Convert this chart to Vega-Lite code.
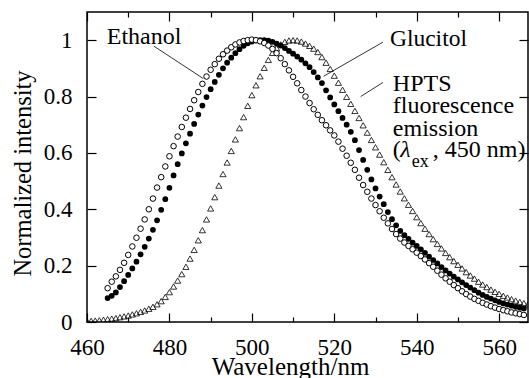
{
  "$schema": "https://vega.github.io/schema/vega-lite/v6.json",
  "autosize": {"type": "none"},
  "padding": {"left": 87, "top": 12, "right": 1, "bottom": 56},
  "width": 441,
  "height": 310,
  "background": "white",
  "config": {
    "view": {"stroke": "black", "strokeWidth": 1.5},
    "font": "Liberation Serif"
  },
  "datasets": {
    "tri": [
      {"nm":460,"I":0.003},{"nm":461,"I":0.004},{"nm":462,"I":0.005},{"nm":463,"I":0.006},{"nm":464,"I":0.008},
      {"nm":465,"I":0.010},{"nm":466,"I":0.012},{"nm":467,"I":0.014},{"nm":468,"I":0.017},{"nm":469,"I":0.020},
      {"nm":470,"I":0.023},{"nm":471,"I":0.027},{"nm":472,"I":0.031},{"nm":473,"I":0.036},{"nm":474,"I":0.041},
      {"nm":475,"I":0.047},{"nm":476,"I":0.054},{"nm":477,"I":0.063},{"nm":478,"I":0.074},{"nm":479,"I":0.089},
      {"nm":480,"I":0.106},{"nm":481,"I":0.126},{"nm":482,"I":0.147},{"nm":483,"I":0.170},{"nm":484,"I":0.196},
      {"nm":485,"I":0.225},{"nm":486,"I":0.256},{"nm":487,"I":0.290},{"nm":488,"I":0.326},{"nm":489,"I":0.364},
      {"nm":490,"I":0.403},{"nm":491,"I":0.443},{"nm":492,"I":0.484},{"nm":493,"I":0.525},{"nm":494,"I":0.566},
      {"nm":495,"I":0.607},{"nm":496,"I":0.648},{"nm":497,"I":0.688},{"nm":498,"I":0.727},{"nm":499,"I":0.767},
      {"nm":500,"I":0.805},{"nm":501,"I":0.840},{"nm":502,"I":0.872},{"nm":503,"I":0.902},{"nm":504,"I":0.930},
      {"nm":505,"I":0.955},{"nm":506,"I":0.972},{"nm":507,"I":0.985},{"nm":508,"I":0.994},{"nm":509,"I":0.999},
      {"nm":510,"I":1.000},{"nm":511,"I":0.999},{"nm":512,"I":0.995},{"nm":513,"I":0.988},{"nm":514,"I":0.980},
      {"nm":515,"I":0.970},{"nm":516,"I":0.958},{"nm":517,"I":0.940},{"nm":518,"I":0.920},{"nm":519,"I":0.898},
      {"nm":520,"I":0.874},{"nm":521,"I":0.849},{"nm":522,"I":0.824},{"nm":523,"I":0.799},{"nm":524,"I":0.774},
      {"nm":525,"I":0.749},{"nm":526,"I":0.724},{"nm":527,"I":0.698},{"nm":528,"I":0.672},{"nm":529,"I":0.646},
      {"nm":530,"I":0.620},{"nm":531,"I":0.594},{"nm":532,"I":0.567},{"nm":533,"I":0.540},{"nm":534,"I":0.514},
      {"nm":535,"I":0.488},{"nm":536,"I":0.463},{"nm":537,"I":0.439},{"nm":538,"I":0.416},{"nm":539,"I":0.394},
      {"nm":540,"I":0.372},{"nm":541,"I":0.351},{"nm":542,"I":0.331},{"nm":543,"I":0.312},{"nm":544,"I":0.294},
      {"nm":545,"I":0.277},{"nm":546,"I":0.261},{"nm":547,"I":0.245},{"nm":548,"I":0.230},{"nm":549,"I":0.216},
      {"nm":550,"I":0.203},{"nm":551,"I":0.190},{"nm":552,"I":0.177},{"nm":553,"I":0.165},{"nm":554,"I":0.154},
      {"nm":555,"I":0.143},{"nm":556,"I":0.133},{"nm":557,"I":0.124},{"nm":558,"I":0.115},{"nm":559,"I":0.107},
      {"nm":560,"I":0.100},{"nm":561,"I":0.093},{"nm":562,"I":0.087},{"nm":563,"I":0.081},{"nm":564,"I":0.076},
      {"nm":565,"I":0.071},{"nm":566,"I":0.067},{"nm":567,"I":0.063}
    ],
    "glucitol": [
      {"nm":465,"I":0.085},{"nm":466,"I":0.093},{"nm":467,"I":0.105},{"nm":468,"I":0.124},{"nm":469,"I":0.145},
      {"nm":470,"I":0.167},{"nm":471,"I":0.190},{"nm":472,"I":0.214},{"nm":473,"I":0.240},{"nm":474,"I":0.267},
      {"nm":475,"I":0.296},{"nm":476,"I":0.327},{"nm":477,"I":0.361},{"nm":478,"I":0.398},{"nm":479,"I":0.436},
      {"nm":480,"I":0.476},{"nm":481,"I":0.520},{"nm":482,"I":0.560},{"nm":483,"I":0.598},{"nm":484,"I":0.634},
      {"nm":485,"I":0.668},{"nm":486,"I":0.703},{"nm":487,"I":0.736},{"nm":488,"I":0.768},{"nm":489,"I":0.798},
      {"nm":490,"I":0.826},{"nm":491,"I":0.852},{"nm":492,"I":0.877},{"nm":493,"I":0.900},{"nm":494,"I":0.920},
      {"nm":495,"I":0.938},{"nm":496,"I":0.954},{"nm":497,"I":0.968},{"nm":498,"I":0.980},{"nm":499,"I":0.989},
      {"nm":500,"I":0.995},{"nm":501,"I":0.999},{"nm":502,"I":1.000},{"nm":503,"I":1.000},{"nm":504,"I":0.998},
      {"nm":505,"I":0.994},{"nm":506,"I":0.988},{"nm":507,"I":0.981},{"nm":508,"I":0.972},{"nm":509,"I":0.962},
      {"nm":510,"I":0.952},{"nm":511,"I":0.942},{"nm":512,"I":0.931},{"nm":513,"I":0.918},{"nm":514,"I":0.904},
      {"nm":515,"I":0.887},{"nm":516,"I":0.868},{"nm":517,"I":0.848},{"nm":518,"I":0.822},{"nm":519,"I":0.797},
      {"nm":520,"I":0.772},{"nm":521,"I":0.748},{"nm":522,"I":0.724},{"nm":523,"I":0.700},{"nm":524,"I":0.675},
      {"nm":525,"I":0.645},{"nm":526,"I":0.610},{"nm":527,"I":0.575},{"nm":528,"I":0.540},{"nm":529,"I":0.506},
      {"nm":530,"I":0.474},{"nm":531,"I":0.445},{"nm":532,"I":0.418},{"nm":533,"I":0.390},{"nm":534,"I":0.365},
      {"nm":535,"I":0.343},{"nm":536,"I":0.323},{"nm":537,"I":0.308},{"nm":538,"I":0.295},{"nm":539,"I":0.282},
      {"nm":540,"I":0.270},{"nm":541,"I":0.258},{"nm":542,"I":0.245},{"nm":543,"I":0.232},{"nm":544,"I":0.220},
      {"nm":545,"I":0.208},{"nm":546,"I":0.195},{"nm":547,"I":0.183},{"nm":548,"I":0.172},{"nm":549,"I":0.161},
      {"nm":550,"I":0.151},{"nm":551,"I":0.141},{"nm":552,"I":0.131},{"nm":553,"I":0.122},{"nm":554,"I":0.113},
      {"nm":555,"I":0.104},{"nm":556,"I":0.096},{"nm":557,"I":0.089},{"nm":558,"I":0.083},{"nm":559,"I":0.077},
      {"nm":560,"I":0.071},{"nm":561,"I":0.066},{"nm":562,"I":0.062},{"nm":563,"I":0.058},{"nm":564,"I":0.054},
      {"nm":565,"I":0.051},{"nm":566,"I":0.048}
    ],
    "ethanol": [
      {"nm":465,"I":0.120},{"nm":466,"I":0.143},{"nm":467,"I":0.162},{"nm":468,"I":0.185},{"nm":469,"I":0.210},
      {"nm":470,"I":0.238},{"nm":471,"I":0.268},{"nm":472,"I":0.299},{"nm":473,"I":0.331},{"nm":474,"I":0.364},
      {"nm":475,"I":0.400},{"nm":476,"I":0.438},{"nm":477,"I":0.477},{"nm":478,"I":0.514},{"nm":479,"I":0.552},
      {"nm":480,"I":0.588},{"nm":481,"I":0.624},{"nm":482,"I":0.658},{"nm":483,"I":0.692},{"nm":484,"I":0.725},
      {"nm":485,"I":0.756},{"nm":486,"I":0.787},{"nm":487,"I":0.816},{"nm":488,"I":0.845},{"nm":489,"I":0.871},
      {"nm":490,"I":0.895},{"nm":491,"I":0.915},{"nm":492,"I":0.934},{"nm":493,"I":0.950},{"nm":494,"I":0.963},
      {"nm":495,"I":0.975},{"nm":496,"I":0.985},{"nm":497,"I":0.992},{"nm":498,"I":0.997},{"nm":499,"I":1.000},
      {"nm":500,"I":1.002},{"nm":501,"I":1.000},{"nm":502,"I":0.996},{"nm":503,"I":0.990},{"nm":504,"I":0.981},
      {"nm":505,"I":0.969},{"nm":506,"I":0.954},{"nm":507,"I":0.936},{"nm":508,"I":0.915},{"nm":509,"I":0.893},
      {"nm":510,"I":0.870},{"nm":511,"I":0.847},{"nm":512,"I":0.823},{"nm":513,"I":0.800},{"nm":514,"I":0.777},
      {"nm":515,"I":0.755},{"nm":516,"I":0.735},{"nm":517,"I":0.716},{"nm":518,"I":0.698},{"nm":519,"I":0.680},
      {"nm":520,"I":0.662},{"nm":521,"I":0.640},{"nm":522,"I":0.615},{"nm":523,"I":0.590},{"nm":524,"I":0.565},
      {"nm":525,"I":0.540},{"nm":526,"I":0.512},{"nm":527,"I":0.486},{"nm":528,"I":0.462},{"nm":529,"I":0.438},
      {"nm":530,"I":0.415},{"nm":531,"I":0.393},{"nm":532,"I":0.370},{"nm":533,"I":0.350},{"nm":534,"I":0.330},
      {"nm":535,"I":0.312},{"nm":536,"I":0.296},{"nm":537,"I":0.282},{"nm":538,"I":0.270},{"nm":539,"I":0.258},
      {"nm":540,"I":0.246},{"nm":541,"I":0.234},{"nm":542,"I":0.222},{"nm":543,"I":0.209},{"nm":544,"I":0.196},
      {"nm":545,"I":0.182},{"nm":546,"I":0.168},{"nm":547,"I":0.155},{"nm":548,"I":0.143},{"nm":549,"I":0.131},
      {"nm":550,"I":0.120},{"nm":551,"I":0.109},{"nm":552,"I":0.099},{"nm":553,"I":0.090},{"nm":554,"I":0.082},
      {"nm":555,"I":0.075},{"nm":556,"I":0.068},{"nm":557,"I":0.062},{"nm":558,"I":0.056},{"nm":559,"I":0.051},
      {"nm":560,"I":0.046},{"nm":561,"I":0.042},{"nm":562,"I":0.038},{"nm":563,"I":0.034},{"nm":564,"I":0.031},
      {"nm":565,"I":0.028},{"nm":566,"I":0.025}
    ]
  },
  "resolve": {"axis": {"x": "independent", "y": "independent"}},
  "layer": [
    {
      "data": {"name": "tri"},
      "mark": {"type": "point", "shape": "triangle-up", "filled": false, "stroke": "black", "strokeWidth": 0.8, "size": 38, "opacity": 1, "clip": true},
      "encoding": {
        "x": {"field": "nm", "type": "quantitative", "scale": {"domain": [460, 567], "nice": false, "zero": false},
          "axis": {"orient": "bottom", "values": [460,470,480,490,500,510,520,530,540,550,560], "format": "d",
            "labelExpr": "datum.value % 20 === 0 ? datum.label : ''",
            "tickSize": {"condition": {"test": "datum.value % 20 === 0", "value": -9}, "value": -5},
            "tickColor": "black", "tickWidth": 1.2, "domain": false, "grid": false,
            "labelFont": "Liberation Serif", "labelFontSize": 23, "labelColor": "black", "labelPadding": 23, "labelFlush": false, "labelOverlap": false,
            "title": "Wavelength/nm", "titleFont": "Liberation Serif", "titleFontSize": 25, "titleFontWeight": "normal", "titleColor": "black",
            "titleX": 203, "titleY": 52, "titleAlign": "center", "titleBaseline": "alphabetic", "titleAnchor": null}},
        "y": {"field": "I", "type": "quantitative", "scale": {"domain": [0, 1.1], "nice": false},
          "axis": {"orient": "left", "values": [0, 0.2, 0.4, 0.6, 0.8, 1], "format": "~g",
            "tickSize": -9, "tickColor": "black", "tickWidth": 1.2, "domain": false, "grid": false,
            "labelFont": "Liberation Serif", "labelFontSize": 23, "labelColor": "black", "labelPadding": 24, "labelOverlap": false, "labelFlush": false,
            "title": "Normalized intensity", "titleFont": "Liberation Serif", "titleFontSize": 24.5, "titleFontWeight": "normal", "titleColor": "black",
            "titleX": -57, "titleY": 161, "titleAlign": "center", "titleBaseline": "alphabetic", "titleAngle": -90}}
      }
    },
    {
      "data": {"name": "glucitol"},
      "mark": {"type": "point", "shape": "circle", "filled": true, "color": "black", "size": 33, "opacity": 1, "clip": true},
      "encoding": {
        "x": {"field": "nm", "type": "quantitative",
          "axis": {"orient": "top", "values": [460,470,480,490,500,510,520,530,540,550,560], "labels": false,
            "tickSize": {"condition": {"test": "datum.value % 20 === 0", "value": -9}, "value": -5},
            "tickColor": "black", "tickWidth": 1.2, "domain": false, "grid": false, "title": null}},
        "y": {"field": "I", "type": "quantitative",
          "axis": {"orient": "right", "values": [0, 0.2, 0.4, 0.6, 0.8, 1], "labels": false, "tickSize": -9,
            "tickColor": "black", "tickWidth": 1.2, "domain": false, "grid": false, "title": null}}
      }
    },
    {
      "data": {"name": "ethanol"},
      "mark": {"type": "point", "shape": "circle", "fill": "white", "stroke": "black", "strokeWidth": 1, "size": 31, "opacity": 1, "fillOpacity": 1, "clip": true},
      "encoding": {
        "x": {"field": "nm", "type": "quantitative", "axis": null},
        "y": {"field": "I", "type": "quantitative", "axis": null}
      }
    },
    {
      "data": {"values": [{}]},
      "mark": {"type": "rule", "color": "black", "strokeWidth": 0.8},
      "encoding": {
        "x": {"datum": 476.2, "type": "quantitative", "axis": null}, "y": {"datum": 0.979, "type": "quantitative", "axis": null},
        "x2": {"datum": 488.2}, "y2": {"datum": 0.864}
      }
    },
    {
      "data": {"values": [{}]},
      "mark": {"type": "rule", "color": "black", "strokeWidth": 0.8},
      "encoding": {
        "x": {"datum": 531.8, "type": "quantitative", "axis": null}, "y": {"datum": 0.993, "type": "quantitative", "axis": null},
        "x2": {"datum": 517.4}, "y2": {"datum": 0.872}
      }
    },
    {
      "data": {"values": [{}]},
      "mark": {"type": "rule", "color": "black", "strokeWidth": 0.8},
      "encoding": {
        "x": {"datum": 531.8, "type": "quantitative", "axis": null}, "y": {"datum": 0.85, "type": "quantitative", "axis": null},
        "x2": {"datum": 526.4}, "y2": {"datum": 0.80}
      }
    },
    {
      "data": {"values": [{}]},
      "mark": {"type": "text", "text": "Ethanol", "font": "Liberation Serif", "fontSize": 24, "align": "left", "baseline": "alphabetic", "color": "black"},
      "encoding": {"x": {"datum": 464.8, "type": "quantitative", "axis": null}, "y": {"datum": 0.986, "type": "quantitative", "axis": null}}
    },
    {
      "data": {"values": [{}]},
      "mark": {"type": "text", "text": "Glucitol", "font": "Liberation Serif", "fontSize": 23.5, "align": "left", "baseline": "alphabetic", "color": "black"},
      "encoding": {"x": {"datum": 533.5, "type": "quantitative", "axis": null}, "y": {"datum": 0.979, "type": "quantitative", "axis": null}}
    },
    {
      "data": {"values": [{}]},
      "mark": {"type": "text", "text": ["HPTS", "fluorescence", "emission"], "lineHeight": 22.5, "font": "Liberation Serif", "fontSize": 24, "align": "left", "baseline": "alphabetic", "color": "black"},
      "encoding": {"x": {"datum": 534.2, "type": "quantitative", "axis": null}, "y": {"datum": 0.82, "type": "quantitative", "axis": null}}
    },
    {
      "data": {"values": [{}]},
      "mark": {"type": "text", "text": "(", "font": "Liberation Serif", "fontSize": 24, "align": "left", "baseline": "alphabetic", "color": "black"},
      "encoding": {"x": {"datum": 534.2, "type": "quantitative", "axis": null}, "y": {"datum": 0.584, "type": "quantitative", "axis": null}}
    },
    {
      "data": {"values": [{}]},
      "mark": {"type": "text", "text": "λ", "font": "Liberation Serif", "fontStyle": "italic", "fontSize": 24, "align": "left", "baseline": "alphabetic", "color": "black"},
      "encoding": {"x": {"datum": 536.0, "type": "quantitative", "axis": null}, "y": {"datum": 0.584, "type": "quantitative", "axis": null}}
    },
    {
      "data": {"values": [{}]},
      "mark": {"type": "text", "text": "ex", "font": "Liberation Serif", "fontSize": 18, "align": "left", "baseline": "alphabetic", "color": "black"},
      "encoding": {"x": {"datum": 538.8, "type": "quantitative", "axis": null}, "y": {"datum": 0.55, "type": "quantitative", "axis": null}}
    },
    {
      "data": {"values": [{}]},
      "mark": {"type": "text", "text": ", 450 nm)", "font": "Liberation Serif", "fontSize": 24, "align": "left", "baseline": "alphabetic", "color": "black"},
      "encoding": {"x": {"datum": 543.9, "type": "quantitative", "axis": null}, "y": {"datum": 0.584, "type": "quantitative", "axis": null}}
    }
  ]
}
